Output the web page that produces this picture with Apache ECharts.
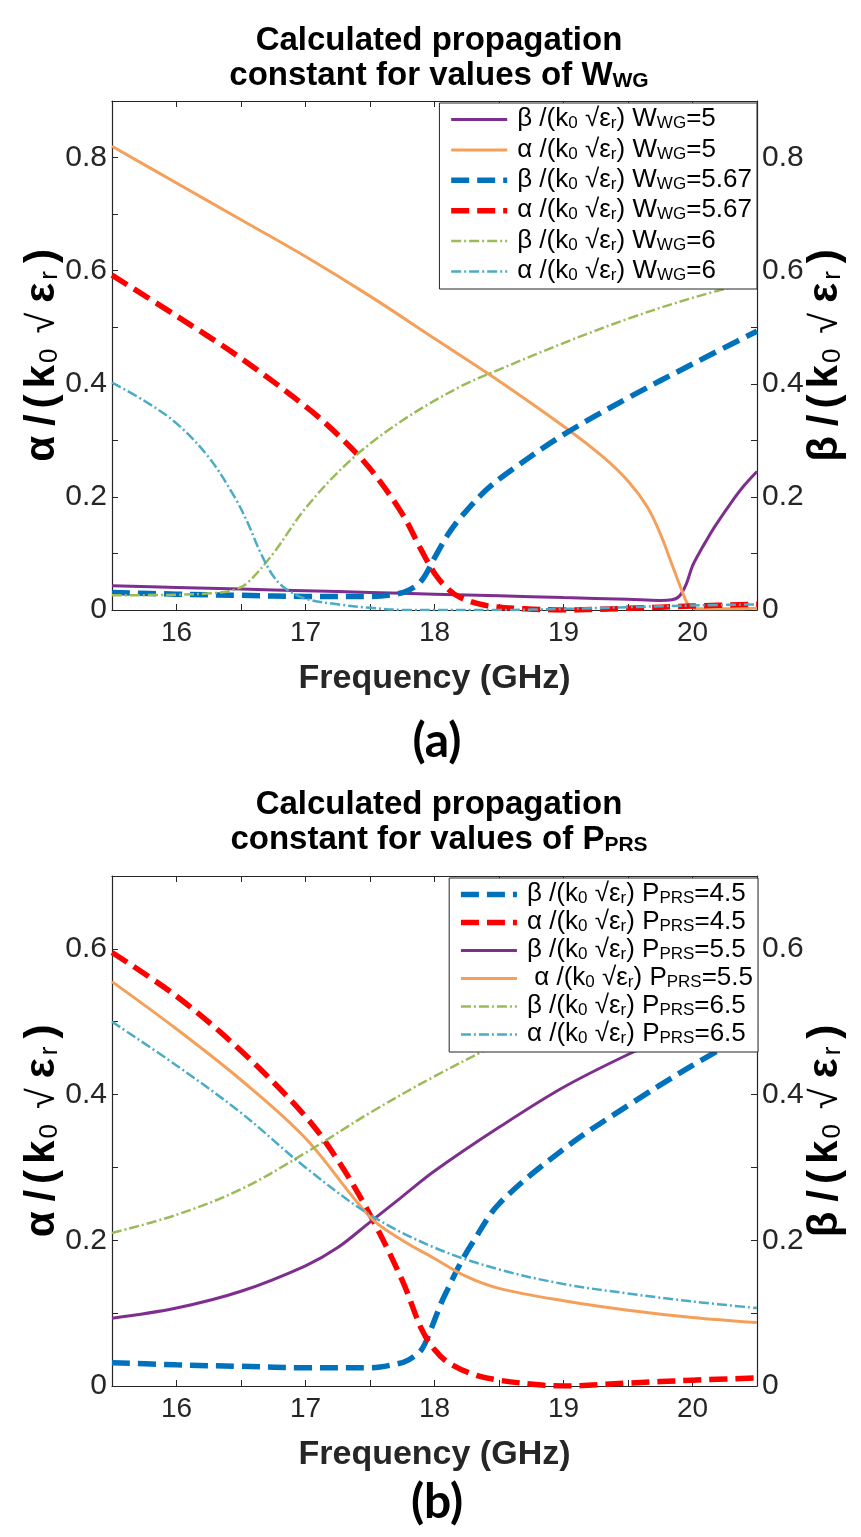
<!DOCTYPE html>
<html>
<head>
<meta charset="utf-8">
<script src="https://cdn.jsdelivr.net/npm/echarts@6/dist/echarts.min.js"></script>
<style>
  html, body { margin: 0; padding: 0; background: #ffffff; }
  #chart { width: 861px; height: 1537px; }
</style>
</head>
<body>
<div id="chart"></div>
<script>
// ---------- Panel (a): sweep of W_WG ----------
const freqBetaW5 = [15.5, 16, 16.5, 17, 17.5, 18, 18.5, 19, 19.5, 19.75, 19.84, 19.9, 19.95, 20.0, 20.05, 20.1, 20.18, 20.3, 20.4, 20.5];
const betaW5     = [0.043, 0.040, 0.037, 0.034, 0.031, 0.028, 0.025, 0.022, 0.019, 0.017, 0.018, 0.025, 0.045, 0.078, 0.100, 0.120, 0.150, 0.190, 0.220, 0.245];

const freqAlphaW5 = [15.5, 16, 16.5, 17, 17.5, 18, 18.5, 19, 19.3, 19.5, 19.65, 19.75, 19.85, 19.92, 19.97, 20.05, 20.3, 20.5];
const alphaW5     = [0.820, 0.755, 0.690, 0.625, 0.555, 0.480, 0.405, 0.325, 0.272, 0.228, 0.182, 0.135, 0.075, 0.033, 0.009, 0.002, 0.002, 0.003];

const freqBetaW567 = [15.5, 16, 16.5, 17, 17.5, 17.7, 17.8, 17.9, 18.0, 18.1, 18.2, 18.4, 18.6, 19.0, 19.5, 20.0, 20.5];
const betaW567     = [0.031, 0.028, 0.026, 0.024, 0.024, 0.028, 0.035, 0.052, 0.092, 0.132, 0.163, 0.212, 0.248, 0.310, 0.375, 0.435, 0.493];

const freqAlphaW567 = [15.5, 16, 16.5, 17, 17.25, 17.5, 17.75, 17.9, 18.0, 18.1, 18.2, 18.4, 18.7, 19.0, 19.5, 20.0, 20.5];
const alphaW567     = [0.592, 0.520, 0.445, 0.360, 0.310, 0.250, 0.170, 0.105, 0.065, 0.038, 0.022, 0.008, 0.002, 0.000, 0.003, 0.007, 0.010];

const freqBetaW6 = [15.5, 16, 16.3, 16.45, 16.55, 16.75, 17.0, 17.35, 17.75, 18.2, 18.5, 19.0, 19.5, 20.0, 20.5];
const betaW6     = [0.026, 0.027, 0.030, 0.036, 0.048, 0.100, 0.180, 0.265, 0.335, 0.395, 0.425, 0.472, 0.515, 0.552, 0.583];

const freqAlphaW6 = [15.5, 15.75, 16.0, 16.25, 16.45, 16.55, 16.65, 16.75, 16.85, 17.0, 17.25, 17.5, 17.8, 18.5, 19.0, 19.5, 20.0, 20.5];
const alphaW6     = [0.402, 0.370, 0.330, 0.270, 0.200, 0.155, 0.102, 0.060, 0.037, 0.020, 0.010, 0.004, 0.000, 0.000, 0.002, 0.005, 0.008, 0.010];

// ---------- Panel (b): sweep of P_PRS ----------
const freqBetaP45 = [15.5, 16, 16.5, 17, 17.5, 17.7, 17.8, 17.9, 17.97, 18.05, 18.1, 18.2, 18.3, 18.5, 19.0, 19.5, 20.0, 20.5];
const betaP45     = [0.032, 0.029, 0.027, 0.025, 0.025, 0.030, 0.036, 0.050, 0.077, 0.113, 0.132, 0.168, 0.198, 0.250, 0.325, 0.385, 0.440, 0.490];

const freqAlphaP45 = [15.5, 16, 16.5, 17, 17.25, 17.5, 17.75, 17.9, 18.0, 18.1, 18.3, 18.5, 18.85, 19.0, 19.5, 20.0, 20.5];
const alphaP45     = [0.595, 0.535, 0.460, 0.370, 0.310, 0.235, 0.145, 0.078, 0.050, 0.033, 0.016, 0.008, 0.001, 0.000, 0.004, 0.008, 0.011];

const freqBetaP55 = [15.5, 16, 16.5, 17, 17.25, 17.5, 17.75, 18, 18.5, 19, 19.5, 20, 20.5];
const betaP55     = [0.093, 0.107, 0.130, 0.165, 0.190, 0.225, 0.260, 0.295, 0.355, 0.410, 0.455, 0.495, 0.530];

const freqAlphaP55 = [15.5, 16, 16.5, 17, 17.5, 17.75, 18, 18.25, 18.5, 19, 19.5, 20, 20.5];
const alphaP55     = [0.555, 0.490, 0.420, 0.340, 0.232, 0.200, 0.175, 0.150, 0.134, 0.117, 0.104, 0.094, 0.087];

const freqBetaP65 = [15.5, 16, 16.5, 17, 17.5, 18, 18.5, 19, 19.5, 20, 20.5];
const betaP65     = [0.210, 0.235, 0.270, 0.320, 0.375, 0.425, 0.470, 0.510, 0.545, 0.575, 0.600];

const freqAlphaP65 = [15.5, 16, 16.5, 17, 17.5, 18, 18.5, 19, 19.5, 20, 20.5];
const alphaP65     = [0.500, 0.440, 0.375, 0.300, 0.235, 0.190, 0.160, 0.140, 0.127, 0.116, 0.107];

// ---------- Axis ticks ----------
const freqTickValues  = [16, 16.5, 17, 17.5, 18, 18.5, 19, 19.5, 20];
const freqLabelValues = [16, 17, 18, 19, 20];

// ---------- Legend labels (rich text) ----------
const namesA = ['betaW5', 'alphaW5', 'betaW567', 'alphaW567', 'betaW6', 'alphaW6'];
const labelsA = [
  '{a|β /(k}{s|0}{a| √ε}{s|r}{a|) W}{s|WG}{a|=5}',
  '{a|α /(k}{s|0}{a| √ε}{s|r}{a|) W}{s|WG}{a|=5}',
  '{a|β /(k}{s|0}{a| √ε}{s|r}{a|) W}{s|WG}{a|=5.67}',
  '{a|α /(k}{s|0}{a| √ε}{s|r}{a|) W}{s|WG}{a|=5.67}',
  '{a|β /(k}{s|0}{a| √ε}{s|r}{a|) W}{s|WG}{a|=6}',
  '{a|α /(k}{s|0}{a| √ε}{s|r}{a|) W}{s|WG}{a|=6}'
];
const namesB = ['betaP45', 'alphaP45', 'betaP55', 'alphaP55', 'betaP65', 'alphaP65'];
const labelsB = [
  '{a|β /(k}{s|0}{a| √ε}{s|r}{a|) P}{s|PRS}{a|=4.5}',
  '{a|α /(k}{s|0}{a| √ε}{s|r}{a|) P}{s|PRS}{a|=4.5}',
  '{a|β /(k}{s|0}{a| √ε}{s|r}{a|) P}{s|PRS}{a|=5.5}',
  '{a| α /(k}{s|0}{a| √ε}{s|r}{a|) P}{s|PRS}{a|=5.5}',
  '{a|β /(k}{s|0}{a| √ε}{s|r}{a|) P}{s|PRS}{a|=6.5}',
  '{a|α /(k}{s|0}{a| √ε}{s|r}{a|) P}{s|PRS}{a|=6.5}'
];

const FONT = "'Liberation Sans', Arial, Helvetica, sans-serif";
const AXIS_COLOR = '#262626';

const COLORS = {
  purple: '#7E2F8E',
  orange: '#F5A05A',
  blue:   '#0072BD',
  red:    '#FF0000',
  green:  '#9BBB59',
  cyan:   '#4BACC6'
};
const DASHED  = [18, 8];
const DASHDOT = [10, 3, 2, 3];

function pairs(xs, ys) {
  return xs.map((x, i) => [x, ys[i]]);
}

function curve(name, xs, ys, color, width, type, xIdx, yIdx) {
  return {
    type: 'line',
    name: name,
    xAxisIndex: xIdx,
    yAxisIndex: yIdx,
    data: pairs(xs, ys),
    symbol: 'none',
    showSymbol: false,
    smooth: 0.35,
    clip: true,
    animation: false,
    itemStyle: { color: color },
    lineStyle: { color: color, width: width, type: type, cap: 'butt' },
    emphasis: { disabled: true }
  };
}

function freqAxis(gridIndex, position, withLabels) {
  return {
    type: 'value',
    gridIndex: gridIndex,
    position: position,
    min: 15.5,
    max: 20.5,
    axisLine: { show: true, onZero: false, lineStyle: { color: AXIS_COLOR, width: 1.2 } },
    axisTick: { show: true, inside: true, length: 6, customValues: freqTickValues,
                lineStyle: { color: AXIS_COLOR, width: 1 } },
    axisLabel: { show: withLabels, customValues: freqLabelValues, color: AXIS_COLOR,
                 fontSize: 28, fontFamily: FONT, margin: 9, formatter: v => String(v) },
    splitLine: { show: false },
    name: withLabels ? 'Frequency (GHz)' : '',
    nameLocation: 'middle',
    nameGap: 52,
    nameTextStyle: { color: AXIS_COLOR, fontSize: 34, fontWeight: 'bold', fontFamily: FONT }
  };
}

// Axis title pieces: large bold symbols, small regular subscripts, a light radical sign
const NAME_SIZE = 42;
const SUB_SIZE = 26;
function namePiece(size, weight, padRight) {
  return { fontSize: size, fontWeight: weight, fontFamily: FONT, color: '#000',
           lineHeight: NAME_SIZE, verticalAlign: 'bottom', padding: [0, padRight, 0, 0] };
}
const axisNameRich = {
  g:  namePiece(NAME_SIZE, 'bold', 10),
  sl: namePiece(NAME_SIZE, 'bold', 6),
  pl: namePiece(NAME_SIZE, 'bold', 6),
  k:  namePiece(NAME_SIZE, 'bold', 2),
  z:  namePiece(SUB_SIZE, 'normal', 15),
  q:  namePiece(NAME_SIZE - 4, 'normal', 10),
  e:  namePiece(NAME_SIZE, 'bold', 3),
  r:  namePiece(SUB_SIZE, 'normal', 8),
  pr: namePiece(NAME_SIZE, 'bold', 0)
};

function ampAxis(gridIndex, position, maxVal, greek) {
  return {
    type: 'value',
    gridIndex: gridIndex,
    position: position,
    min: 0,
    max: maxVal,
    interval: 0.1,
    axisLine: { show: true, onZero: false, lineStyle: { color: AXIS_COLOR, width: 1.2 } },
    axisTick: { show: true, inside: true, length: 6, lineStyle: { color: AXIS_COLOR, width: 1 } },
    axisLabel: {
      color: AXIS_COLOR, fontSize: 30, fontFamily: FONT, margin: 5,
      formatter: v => {
        const k = Math.round(v * 10);
        return k % 2 === 0 ? String(k / 10) : '';
      }
    },
    splitLine: { show: false },
    name: '{g|' + greek + '}{sl|/}{pl|(}{k|k}{z|0}{q|√}{e|ε}{r|r}{pr|)}',
    nameLocation: 'middle',
    nameRotate: 90,
    nameMoveOverlap: false,
    nameGap: position === 'left' ? 49 : 47,
    nameTextStyle: { rich: axisNameRich }
  };
}

const titleRich = {
  t: { fontSize: 33, fontWeight: 'bold', fontFamily: FONT, color: '#000', lineHeight: 35, verticalAlign: 'bottom' },
  u: { fontSize: 21, fontWeight: 'bold', fontFamily: FONT, color: '#000', lineHeight: 25, verticalAlign: 'bottom' }
};

const legendRich = {
  a: { fontSize: 26, fontFamily: FONT, color: '#000', lineHeight: 25, verticalAlign: 'bottom' },
  s: { fontSize: 17, fontFamily: FONT, color: '#000', lineHeight: 19, verticalAlign: 'bottom' }
};

function legendBox(names, labels, rightPx, topPx, gap) {
  return {
    data: names,
    orient: 'vertical',
    right: rightPx,
    top: topPx,
    itemWidth: 56,
    itemHeight: 14,
    itemGap: gap,
    padding: [3, 5, 5, 9],
    borderColor: AXIS_COLOR,
    borderWidth: 1,
    borderRadius: 0,
    backgroundColor: '#ffffff',
    selectedMode: false,
    itemStyle: { opacity: 0, borderWidth: 0 },
    lineStyle: { width: 'inherit' },
    textStyle: { rich: legendRich, padding: [0, 0, 0, 5] },
    formatter: name => {
      const i = names.indexOf(name);
      return i >= 0 ? labels[i] : name;
    }
  };
}

const option = {
  backgroundColor: '#ffffff',
  animation: false,
  title: [
    {
      text: '{t|Calculated propagation}\n{t|constant for values of W}{u|WG}',
      left: 434, top: 17, textAlign: 'center',
      textStyle: { rich: titleRich }
    },
    {
      text: '(a)', left: 432, top: 713, textAlign: 'center',
      textStyle: { fontSize: 48, fontWeight: 'bold', fontFamily: "Lato, 'Open Sans', sans-serif", color: '#000' }
    },
    {
      text: '{t|Calculated propagation}\n{t|constant for values of P}{u|PRS}',
      left: 434, top: 781, textAlign: 'center',
      textStyle: { rich: titleRich }
    },
    {
      text: '(b)', left: 432, top: 1474, textAlign: 'center',
      textStyle: { fontSize: 48, fontWeight: 'bold', fontFamily: "Lato, 'Open Sans', sans-serif", color: '#000' }
    }
  ],
  legend: [
    legendBox(namesA, labelsA, 104, 103, 4.4),
    legendBox(namesB, labelsB, 103, 878, 2)
  ],
  grid: [
    { left: 112, top: 101, width: 645, height: 509, containLabel: false, outerBoundsMode: 'none' },
    { left: 112, top: 876, width: 645, height: 510, containLabel: false, outerBoundsMode: 'none' }
  ],
  xAxis: [
    freqAxis(0, 'bottom', true),
    freqAxis(0, 'top', false),
    freqAxis(1, 'bottom', true),
    freqAxis(1, 'top', false)
  ],
  yAxis: [
    ampAxis(0, 'left', 0.9, 'α'),
    ampAxis(0, 'right', 0.9, 'β'),
    ampAxis(1, 'left', 0.7, 'α'),
    ampAxis(1, 'right', 0.7, 'β')
  ],
  series: [
    curve('betaW5',    freqBetaW5,    betaW5,    COLORS.purple, 3,   'solid', 0, 1),
    curve('alphaW5',   freqAlphaW5,   alphaW5,   COLORS.orange, 3,   'solid', 0, 0),
    curve('betaW567',  freqBetaW567,  betaW567,  COLORS.blue,   5.5, DASHED,  0, 1),
    curve('alphaW567', freqAlphaW567, alphaW567, COLORS.red,    5.5, DASHED,  0, 0),
    curve('betaW6',    freqBetaW6,    betaW6,    COLORS.green,  2.5, DASHDOT, 0, 1),
    curve('alphaW6',   freqAlphaW6,   alphaW6,   COLORS.cyan,   2.5, DASHDOT, 0, 0),

    curve('betaP45',   freqBetaP45,   betaP45,   COLORS.blue,   5.5, DASHED,  2, 3),
    curve('alphaP45',  freqAlphaP45,  alphaP45,  COLORS.red,    5.5, DASHED,  2, 2),
    curve('betaP55',   freqBetaP55,   betaP55,   COLORS.purple, 3,   'solid', 2, 3),
    curve('alphaP55',  freqAlphaP55,  alphaP55,  COLORS.orange, 3,   'solid', 2, 2),
    curve('betaP65',   freqBetaP65,   betaP65,   COLORS.green,  2.5, DASHDOT, 2, 3),
    curve('alphaP65',  freqAlphaP65,  alphaP65,  COLORS.cyan,   2.5, DASHDOT, 2, 2)
  ]
};

const chart = echarts.init(document.getElementById('chart'), null, { renderer: 'canvas' });
chart.setOption(option);
</script>
</body>
</html>
